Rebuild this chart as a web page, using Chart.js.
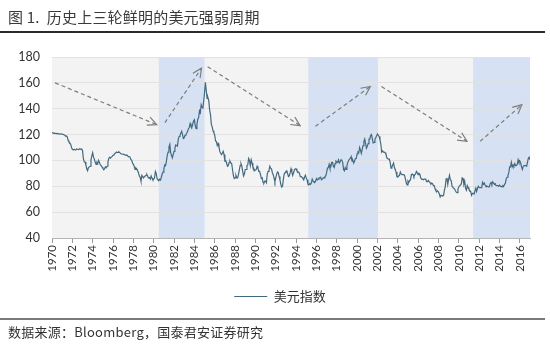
<!DOCTYPE html>
<html><head><meta charset="utf-8">
<script src="https://cdn.jsdelivr.net/npm/chart.js@4.4.1/dist/chart.umd.min.js"></script>
<style>
html,body{margin:0;padding:0;background:#fff}
#wrap{position:relative;width:550px;height:344px;overflow:hidden;background:#fff}
#cv{position:absolute;left:0;top:0;width:550px;height:344px}
.t{position:absolute;font-family:"Noto Sans CJK SC","Noto Sans",sans-serif;color:#333;white-space:pre}
</style></head>
<body>
<div id="wrap">
<div id="cv"><canvas id="c"></canvas></div>
<div class="t" style="left:8px;top:6px;font-size:15px;color:#3a3a3a;letter-spacing:0.2px">图 1.  历史上三轮鲜明的美元强弱周期</div>
<div style="position:absolute;left:0;top:31px;width:545px;height:2px;background:#2a2a2a"></div>
<div style="position:absolute;left:0;top:318px;width:545px;height:2px;background:#7a7a7a"></div>
<div class="t" style="left:8px;top:322px;font-size:13px;letter-spacing:0.25px">数据来源：Bloomberg，国泰君安证券研究</div>
</div>
<script>
// ---- data (monthly US Dollar Index, Jan 1970 onward) ----
const seriesName = '美元指数';
const startYear = 1970;
const dxyMonthly = [
121.5,121.3,121.0,121.1,120.9,120.8,120.9,120.7,120.6,120.5,120.4,120.6,
120.3,120.1,119.9,119.5,118.8,119.0,118.2,115.5,114.2,113.6,112.6,110.0,
108.6,108.2,108.5,108.3,108.0,108.9,108.6,108.4,108.7,108.9,108.6,108.8,
107.8,101.5,99.0,98.8,96.5,93.5,92.0,94.5,95.0,95.5,100.5,103.5,
106.0,102.5,101.0,98.5,97.0,98.5,97.5,100.0,98.5,96.5,96.0,95.0,
94.0,92.8,93.5,95.0,94.3,95.5,99.0,101.5,102.5,101.8,102.5,103.2,
104.0,104.2,105.3,105.8,106.5,106.0,106.3,106.6,106.0,105.3,105.0,104.8,
104.8,104.6,104.3,104.0,104.2,103.8,102.8,103.0,102.5,100.8,100.2,98.0,
97.0,95.5,93.0,94.2,93.5,92.0,90.5,88.0,87.0,84.0,88.5,87.5,
86.5,87.5,88.0,88.5,89.0,87.5,86.5,86.8,85.5,88.0,86.3,85.0,
85.5,86.5,91.5,90.0,85.8,85.0,84.3,85.5,84.8,87.0,89.5,91.0,
93.5,96.5,96.0,99.5,104.0,106.5,110.5,112.5,106.0,104.0,102.0,104.5,
107.0,109.5,112.0,111.5,111.0,116.5,118.5,119.5,121.0,122.5,120.0,117.0,
117.5,119.5,120.0,121.0,122.5,124.5,125.5,128.5,126.5,125.5,128.0,130.5,
131.5,127.0,124.5,128.0,132.0,133.0,138.5,137.0,143.0,141.0,140.5,146.0,
152.5,160.5,154.0,148.0,148.5,146.0,139.0,135.5,128.0,126.0,123.0,121.5,
119.5,115.0,114.5,111.5,113.0,110.5,107.0,105.5,104.5,105.5,107.0,104.5,
99.5,99.8,98.0,95.5,96.0,98.5,99.5,98.0,97.5,93.0,88.5,86.0,
86.5,88.5,86.5,86.5,89.0,92.5,96.0,97.5,95.5,91.5,88.0,89.5,
93.0,93.0,96.0,96.5,101.5,100.0,96.0,100.5,98.0,95.0,94.0,92.0,
92.5,93.0,95.5,94.0,91.5,91.5,89.0,86.0,86.5,83.0,82.5,84.0,
84.0,82.8,89.5,91.5,92.0,95.5,94.0,93.5,90.5,89.0,86.5,83.5,
86.5,89.0,91.0,90.5,87.5,85.0,81.5,79.3,80.0,85.5,89.5,90.5,
91.5,92.0,90.0,87.5,88.0,90.5,93.5,91.0,88.5,90.5,92.5,93.5,
93.5,92.0,91.0,91.0,90.0,87.5,87.5,87.0,86.0,85.0,87.0,88.5,
86.5,85.0,81.5,81.0,82.0,81.5,82.5,85.5,84.0,83.3,83.0,84.0,
86.0,85.0,85.5,86.5,86.5,87.0,85.0,85.5,86.5,86.5,87.5,88.0,
90.5,94.0,94.5,97.0,94.0,95.0,98.5,98.5,95.5,94.5,97.5,99.5,
99.0,98.5,100.5,98.0,99.0,100.5,100.0,98.5,93.0,92.0,94.5,93.0,
96.0,98.5,100.0,101.0,101.5,103.0,99.5,100.0,98.0,99.5,101.5,101.5,
105.0,106.5,106.0,110.0,108.0,105.5,108.5,111.5,114.5,116.5,113.0,109.5,
111.0,113.0,116.5,116.5,119.5,120.0,116.5,113.5,114.0,116.5,117.5,119.0,
120.5,119.5,118.5,116.0,112.5,106.5,107.5,106.5,106.5,106.0,105.0,102.0,
101.5,101.0,101.0,98.5,94.0,95.0,96.5,98.0,94.5,93.0,91.0,87.5,
87.0,88.0,88.5,91.0,89.5,89.0,89.0,89.0,88.5,85.5,82.5,81.0,
84.0,83.0,84.5,85.0,89.0,89.5,89.0,87.5,89.0,89.5,91.5,90.5,
89.0,90.0,89.5,86.5,85.5,85.5,85.0,85.5,85.5,85.5,83.5,83.5,
84.5,83.5,83.0,81.5,82.5,82.0,80.5,80.5,78.0,76.5,76.0,76.5,
75.5,74.0,71.8,73.0,73.0,72.5,73.0,77.0,79.5,85.5,86.5,81.5,
85.5,88.5,85.0,84.5,80.0,80.0,78.5,78.0,76.5,75.5,75.0,78.0,
79.5,80.5,81.0,82.0,86.5,86.0,81.5,83.5,78.5,77.0,80.5,79.0,
77.5,76.5,76.0,73.0,74.5,74.5,74.0,74.0,78.5,76.0,78.5,80.0,
79.0,79.0,79.0,79.0,83.0,81.5,82.5,81.0,80.0,80.0,80.0,79.5,
79.5,82.0,83.0,81.5,83.5,82.5,81.5,82.0,80.5,80.5,80.5,80.0,
81.0,80.0,80.0,79.5,80.5,80.0,81.5,82.5,86.0,87.0,88.5,90.5,
95.0,95.0,98.5,95.0,96.5,95.5,97.5,96.0,96.0,97.0,100.5,98.5,
99.5,98.0,95.0,93.0,95.5,96.0,96.0,96.0,95.5,98.5,101.5,102.5,
100.5
];
const xTickYears = [1970,1972,1974,1976,1978,1980,1982,1984,1986,1988,1990,1992,1994,1996,1998,2000,2002,2004,2006,2008,2010,2012,2014,2016];
const yTicks = [40,60,80,100,120,140,160,180];
// strong-dollar periods (shaded), in years
const strongPeriods = [[1980.5,1985.0],[1995.2,2002.05],[2011.4,2017.0]];
// trend arrows: [year1, value1, year2, value2]
const trendArrows = [
  [1970.3,160.0,1980.3,127.7],
  [1981.1,129.2,1984.7,171.3],
  [1985.3,172.5,1994.4,126.9],
  [1995.9,126.4,2001.3,157.2],
  [2002.4,157.2,2010.8,114.8],
  [2012.1,114.8,2016.2,143.1]
];

const points = dxyMonthly.map((v,i)=>({x: startYear + i/12, y: v}));
const legendShift = 15;

const bgPlugin = {
  id:'bg',
  afterLayout(chart){
    if (chart.legend){ chart.legend.left += legendShift; chart.legend.right += legendShift; }
  },
  beforeDraw(chart){
    const {ctx, chartArea:a, scales:{x}} = chart;
    ctx.save();
    ctx.fillStyle = '#f3f3f3';
    ctx.fillRect(a.left, a.top, a.right-a.left, a.bottom-a.top);
    ctx.fillStyle = '#d6e2f4';
    strongPeriods.forEach(([s,e])=>{
      const x1 = x.getPixelForValue(s), x2 = x.getPixelForValue(e);
      ctx.fillRect(x1, a.top, x2-x1, a.bottom-a.top);
    });
    ctx.restore();
  },
  afterDatasetsDraw(chart){
    const {ctx, scales:{x,y}} = chart;
    ctx.save();
    ctx.strokeStyle = '#7d7d7d';
    ctx.lineWidth = 1.2;
    trendArrows.forEach(([a,b,c,d])=>{
      const x1=x.getPixelForValue(a), y1=y.getPixelForValue(b);
      const x2=x.getPixelForValue(c), y2=y.getPixelForValue(d);
      ctx.setLineDash([4,3]);
      ctx.beginPath(); ctx.moveTo(x1,y1); ctx.lineTo(x2,y2); ctx.stroke();
      ctx.setLineDash([]);
      const ang = Math.atan2(y2-y1, x2-x1), L = 10, w = 0.45;
      ctx.beginPath();
      ctx.moveTo(x2 - L*Math.cos(ang-w), y2 - L*Math.sin(ang-w));
      ctx.lineTo(x2,y2);
      ctx.lineTo(x2 - L*Math.cos(ang+w), y2 - L*Math.sin(ang+w));
      ctx.stroke();
    });
    ctx.restore();
  }
};

new Chart(document.getElementById('c'), {
  type:'line',
  data:{datasets:[{
    label: seriesName,
    data: points,
    borderColor:'#42697f',
    backgroundColor:'#42697f',
    borderWidth:1.2,
    pointRadius:0,
    tension:0
  }]},
  options:{
    responsive:true, maintainAspectRatio:false, animation:false,
    layout:{padding:{top:57,right:20,left:0,bottom:31}},
    plugins:{
      legend:{position:'bottom',
        labels:{boxWidth:33,boxHeight:0,padding:10,color:'#333',
          font:{family:'"Noto Sans CJK SC", sans-serif',size:13}}},
      tooltip:{enabled:false}
    },
    scales:{
      x:{type:'linear',min:1970,max:2017,
        afterBuildTicks(s){ s.ticks = xTickYears.map(v=>({value:v})); },
        afterFit(s){ s.height = 42; },
        ticks:{autoSkip:false,maxRotation:90,minRotation:90,padding:2,color:'#333',
          font:{family:'Lato, "Liberation Sans", sans-serif',size:11.5},
          callback:v=>String(v)},
        grid:{drawOnChartArea:false,tickLength:5,color:'#9a9a9a'},
        border:{color:'#b5b5b5'}
      },
      y:{min:40,max:180,
        afterBuildTicks(s){ s.ticks = yTicks.map(v=>({value:v})); },
        afterFit(s){ s.width = 52; },
        ticks:{padding:12,color:'#333',font:{family:'Lato, "Liberation Sans", sans-serif',size:12.5}},
        grid:{color:'#e2e2e2',drawTicks:false},
        border:{display:false}
      }
    }
  },
  plugins:[bgPlugin]
});
</script>
</body></html>
